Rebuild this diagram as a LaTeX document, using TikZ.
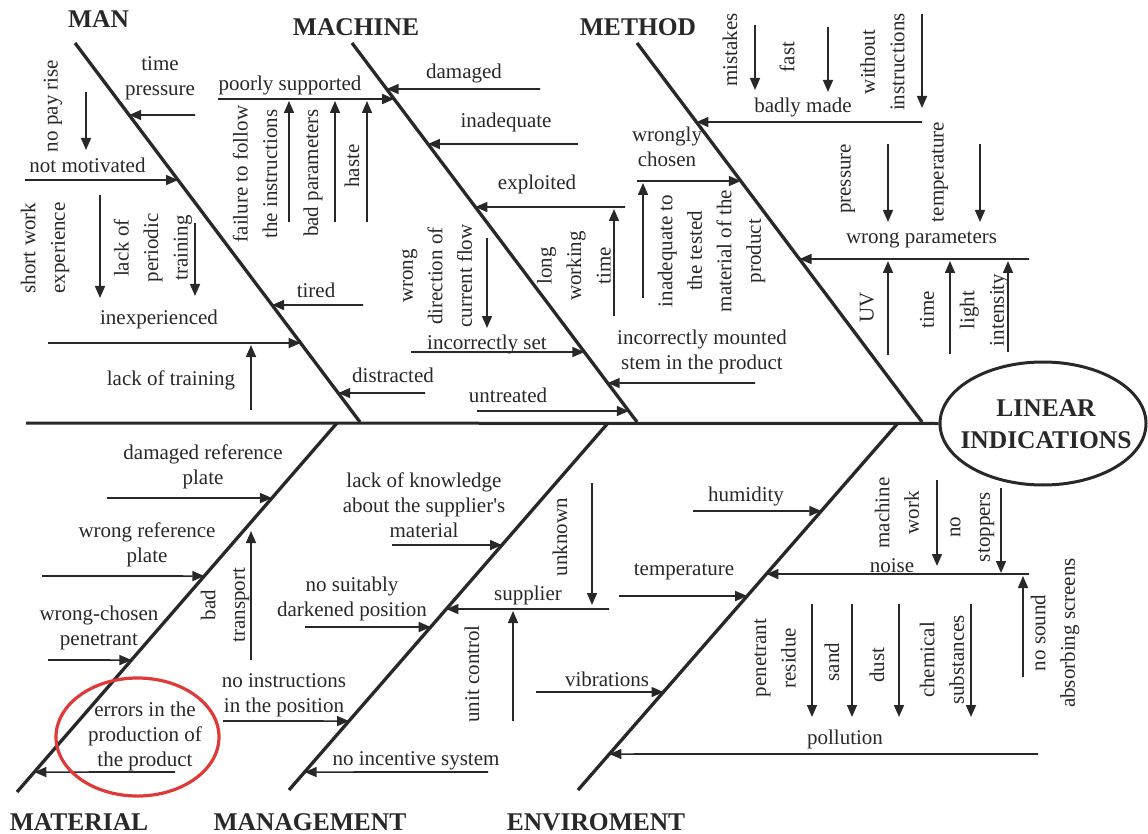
\documentclass[tikz,border=0pt]{standalone}
\usepackage{fontspec}
\setmainfont{Liberation Serif}
\usetikzlibrary{arrows.meta,shapes.geometric}
\definecolor{ink}{RGB}{40,40,40}
\definecolor{redc}{RGB}{222,58,58}
\newcommand\hb[4]{\coordinate (#1s) at (#3,#4);\coordinate (#1e) at (intersection of #2T--#2B and 0,#4--1000,#4);\draw[arr] (#1s) -- (#1e);}
\newcommand\va[4]{\coordinate (#1s) at (#2,#3);\coordinate (#1e) at (#2,#4);\draw[arr] (#1s) -- (#1e);}
\begin{document}
\begin{tikzpicture}[x=1pt,y=-1pt,
  lbl/.style={font=\fontsize{21}{25}\selectfont, align=center, inner sep=0pt, text=ink},
  vlbl/.style={font=\fontsize{21}{29.5}\selectfont, align=center, inner sep=0pt, text=ink, rotate=90},
  head/.style={font=\fontsize{25.5}{32}\selectfont\bfseries, inner sep=0pt, text=ink},
  bone/.style={draw=ink, line width=3.3pt},
  spine/.style={draw=ink, line width=3pt},
  ln/.style={draw=ink, line width=1.6pt},
  arr/.style={ln, -{Triangle[length=12pt,width=10pt]}}]
\useasboundingbox (0,0) rectangle (1148,834);
% effect
\node[draw=ink, line width=3pt, ellipse, minimum width=206pt, minimum height=123pt, inner sep=0pt] (eff) at (1043,423.5) {};
\node[head, align=center] (effT) at (1046,424) {LINEAR\\INDICATIONS};
\coordinate (spL) at (26,423);
\draw[spine] (spL) -- (eff.west);
% headings
\node[head] (hMan) at (98.5,19) {MAN};
\node[head] (hMach) at (356,27) {MACHINE};
\node[head] (hMeth) at (638,27) {METHOD};
\node[head] (hMat) at (79,822) {MATERIAL};
\node[head] (hMgmt) at (310,822) {MANAGEMENT};
\node[head] (hEnv) at (596,822) {ENVIROMENT};
% bones
\coordinate (manT) at (75,43); \coordinate (manB) at (360,422);
\coordinate (macT) at (352,43); \coordinate (macB) at (637,422);
\coordinate (metT) at (637,43); \coordinate (metB) at (922,422);
\coordinate (matT) at (337,423); \coordinate (matB) at (17,792);
\coordinate (mgmT) at (608,423); \coordinate (mgmB) at (289,790);
\coordinate (envT) at (898,423); \coordinate (envB) at (578,790);
\draw[bone] (manT) -- (manB);
\draw[bone] (macT) -- (macB);
\draw[bone] (metT) -- (metB);
\draw[bone] (matT) -- (matB);
\draw[bone] (mgmT) -- (mgmB);
\draw[bone] (envT) -- (envB);
% MAN
\node[lbl] (tTime) at (160,78) {time\\pressure};
\hb{aTime}{man}{195}{115}
\node[vlbl] (tNoPay) at (53,106) {no pay rise};
\va{aNoPay}{86}{92}{150}
\node[lbl] (tNotMot) at (87.5,165) {not motivated};
\hb{aNotMot}{man}{25}{180}
\node[vlbl] (tShort) at (45,248) {short work\\experience};
\va{aShort}{100}{195}{298}
\node[vlbl] (tLackPer) at (153,248) {lack of\\periodic\\training};
\va{aLackPer}{195}{223}{296}
\node[lbl] (tInexp) at (159,319) {inexperienced};
\hb{aInexp}{man}{48}{343}
\node[lbl] (tLackTr) at (171,380) {lack of training};
\va{aLackTr}{251}{410}{345}
\node[lbl] (tTired) at (316,290) {tired};
\hb{aTired}{man}{363}{305}
\node[lbl] (tDistr) at (393,375) {distracted};
\hb{aDistr}{man}{425}{393}
% MACHINE
\node[lbl] (tPoorly) at (290,85) {poorly supported};
\hb{aPoorly}{mac}{218}{99}
\node[vlbl] (tFail) at (255,174) {failure to follow\\the instructions};
\va{aFail}{289}{222}{101}
\node[vlbl] (tBadPar) at (313,173) {bad parameters};
\va{aBadPar}{335}{222}{101}
\node[vlbl] (tHaste) at (352,166) {haste};
\va{aHaste}{367}{222}{101}
\node[lbl] (tDamaged) at (464,73) {damaged};
\hb{aDamaged}{mac}{540}{89}
\node[lbl] (tInadeq) at (506,122) {inadequate};
\hb{aInadeq}{mac}{578}{144}
\node[lbl] (tExpl) at (537,184) {exploited};
\hb{aExpl}{mac}{625}{207}
\node[vlbl] (tLong) at (574,266) {long\\working\\time};
\va{aLong}{614}{316}{209}
\node[vlbl] (tWrongDir) at (437,276) {wrong\\direction of\\current flow};
\va{aWrongDir}{487}{238}{328}
\node[lbl] (tIncSet) at (487,344) {incorrectly set};
\hb{aIncSet}{mac}{411}{352}
\node[lbl] (tUntr) at (508,395) {untreated};
\hb{aUntr}{mac}{477}{411}
\node[lbl] (tIncMount) at (702,352) {incorrectly mounted\\stem in the product};
\hb{aIncMount}{mac}{755}{383}
% METHOD
\node[lbl] (tBadly) at (803,107) {badly made};
\hb{aBadly}{met}{922}{122}
\node[vlbl] (tMist) at (730,50) {mistakes};
\va{aMist}{755}{25}{90}
\node[vlbl] (tFast) at (787,57) {fast};
\va{aFast}{828}{27}{92}
\node[vlbl] (tWithout) at (882.5,62) {without\\instructions};
\va{aWithout}{922}{14}{108}
\node[lbl] (tWrongly) at (667,147) {wrongly\\chosen};
\hb{aWrongly}{met}{637}{181}
\va{aInadTo}{643}{298}{183}
\node[vlbl] (tInadTo) at (711.5,251) {inadequate to\\the tested\\material of the\\product};
\node[lbl] (tWrongPar) at (921.5,240) {wrong parameters};
\hb{aWrongPar}{met}{1029}{259}
\node[vlbl] (tPress) at (848,179) {pressure};
\va{aPress}{888}{144}{222}
\node[vlbl] (tTempM) at (940,172) {temperature};
\va{aTempM}{980}{144}{222}
\node[vlbl] (tUV) at (867,307) {UV};
\va{aUV}{888}{355}{261}
\node[vlbl] (tTimeM) at (927,310) {time};
\va{aTimeM}{950}{354}{261}
\node[vlbl] (tLight) at (984,310) {light\\intensity};
\va{aLight}{1008}{352}{261}
% MATERIAL
\node[lbl] (tDamRef) at (203,467) {damaged reference\\plate};
\hb{aDamRef}{mat}{107}{498}
\node[lbl] (tWrongRef) at (147,545) {wrong reference\\plate};
\hb{aWrongRef}{mat}{42}{576}
\node[lbl] (tWrongCh) at (99,628) {wrong-chosen\\penetrant};
\hb{aWrongCh}{mat}{48}{660}
\node[vlbl] (tBad) at (225,605) {bad\\transport};
\va{aBad}{251}{660}{531}
\node[lbl] (tErrors) at (145,736) {errors in the\\production of\\the product};
\hb{aErrors}{mat}{175}{772}
\node[draw=redc, line width=3.2pt, ellipse, minimum width=163pt, minimum height=118pt, inner sep=0pt] (circ) at (137.5,737) {};
% MANAGEMENT
\node[lbl] (tNoInstr) at (284,695) {no instructions\\in the position};
\hb{aNoInstr}{mgm}{223}{721}
\node[lbl] (tLackKn) at (424,505) {lack of knowledge\\about the supplier\textquotesingle s\\material};
\hb{aLackKn}{mgm}{392}{545}
\node[lbl] (tNoSuit) at (352,599) {no suitably\\darkened position};
\hb{aNoSuit}{mgm}{305}{627}
\node[lbl] (tNoInc) at (416,761) {no incentive system};
\hb{aNoInc}{mgm}{488}{772}
\node[lbl] (tSupp) at (528,595) {supplier};
\hb{aSupp}{mgm}{609}{609}
\node[vlbl] (tUnknown) at (560,537) {unknown};
\va{aUnknown}{592}{483}{605}
\node[vlbl] (tUnit) at (472,674) {unit control};
\va{aUnit}{513}{721}{611}
% ENVIROMENT
\node[lbl] (tHum) at (746,496) {humidity};
\hb{aHum}{env}{693}{511}
\node[lbl] (tTempE) at (684,572) {temperature};
\hb{aTempE}{env}{619}{596}
\node[lbl] (tVib) at (607,679) {vibrations};
\hb{aVib}{env}{536}{692}
\node[lbl] (tNoise) at (892,566) {noise};
\hb{aNoise}{env}{1029}{574}
\node[vlbl] (tMachW) at (897,513) {machine\\work};
\va{aMachW}{937}{480}{566}
\node[vlbl] (tNoStop) at (972.5,527) {no\\stoppers};
\va{aNoStop}{1001}{488}{573}
\node[vlbl] (tNoSound) at (1055,633) {no sound\\absorbing screens};
\va{aNoSound}{1023}{677}{576}
\node[vlbl] (tPenRes) at (775,658) {penetrant\\residue};
\va{aPenRes}{812}{604}{717}
\node[vlbl] (tSand) at (832,662) {sand};
\va{aSand}{852}{604}{717}
\node[vlbl] (tDust) at (877,665) {dust};
\va{aDust}{899}{604}{717}
\node[vlbl] (tChem) at (942,660) {chemical\\substances};
\va{aChem}{971}{604}{717}
\node[lbl] (tPoll) at (845,739) {pollution};
\hb{aPoll}{env}{1038}{754}
\end{tikzpicture}
\end{document}
